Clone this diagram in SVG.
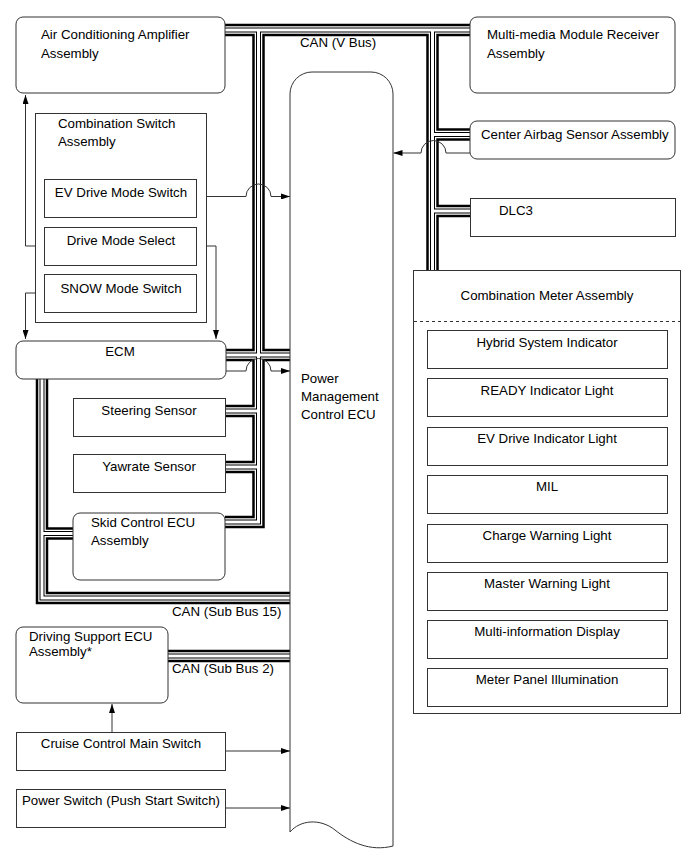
<svg xmlns="http://www.w3.org/2000/svg" xmlns:xlink="http://www.w3.org/1999/xlink" width="690" height="854" viewBox="0 0 690 854">
<style>
.box{fill:#fff;stroke:#333;stroke-width:1}
.t{font-family:"Liberation Sans",Arial,sans-serif;font-size:13.3px;fill:#000}
.c{text-anchor:middle}
.sig{fill:none;stroke:#333;stroke-width:1}
.b1{fill:none;stroke:#000;stroke-width:12.5}
.b2{fill:none;stroke:#fff;stroke-width:7.5}
.b3{fill:none;stroke:#000;stroke-width:5}
.b4{fill:none;stroke:#fff;stroke-width:3}
</style>
<defs>
<marker id="ah" markerWidth="9" markerHeight="6" refX="9" refY="3" orient="auto" markerUnits="userSpaceOnUse"><path d="M0,0 L9,3 L0,6 z" fill="#000"/></marker>
<g id="busgeom">
<path d="M225,30 H470"/>
<path d="M258.5,30 V522 H225"/>
<path d="M225,411 H258.5"/>
<path d="M225,467 H258.5"/>
<path d="M226,355 H290"/>
<path d="M432.5,30 V270"/>
<path d="M432.5,134.5 H470"/>
<path d="M432.5,211 H470"/>
<path d="M42,379 V598 H290"/>
<path d="M42,533.5 H73"/>
<path d="M168,656 H290"/>
</g>
</defs>
<rect width="690" height="854" fill="#fff"/>
<g id="connectors">
<use xlink:href="#busgeom" class="b1" stroke-linejoin="miter"/>
<use xlink:href="#busgeom" class="b2"/>
<use xlink:href="#busgeom" class="b3"/>
<use xlink:href="#busgeom" class="b4"/>
<path class="sig" d="M44,246 H25.5 V95" marker-end="url(#ah)"/>
<path class="sig" d="M44,293 H25.5 V339" marker-end="url(#ah)"/>
<path class="sig" d="M197,246 H216 V339" marker-end="url(#ah)"/>
<path class="sig" d="M197,196.5 H246 A12.5,12.5 0 0 1 271,196.5 H290" marker-end="url(#ah)"/>
<path class="sig" d="M226,371 H246 A12.5,12.5 0 0 1 271,371 H290" marker-end="url(#ah)"/>
<path class="sig" d="M470,153 H446 A12.5,12.5 0 0 0 421,153 H393.5" marker-end="url(#ah)"/>
<path class="sig" d="M112,732 V704" marker-end="url(#ah)"/>
<path class="sig" d="M225,751 H290" marker-end="url(#ah)"/>
<path class="sig" d="M225,808 H290" marker-end="url(#ah)"/>
</g>
<g id="pm">
<path class="box" d="M290,832 V94 A22,22 0 0 1 312,72 H371 A22,22 0 0 1 393,94 V846 C370,852 350,842 335,830 C320,818 300,820 290,832 Z"/>
<text class="t" x="301" y="383">Power</text>
<text class="t" x="301" y="401">Management</text>
<text class="t" x="301" y="419">Control ECU</text>
</g>
<text class="t" x="300" y="47">CAN (V Bus)</text>
<text class="t" x="172" y="615.5">CAN (Sub Bus 15)</text>
<text class="t" x="172" y="672.5">CAN (Sub Bus 2)</text>
<g id="aircon">
<rect class="box" x="16" y="17" width="209" height="76" rx="7"/>
<text class="t" x="41" y="39">Air Conditioning Amplifier</text>
<text class="t" x="41" y="57.5">Assembly</text>
</g>
<g id="combswitch">
<rect class="box" x="35.5" y="113.5" width="171" height="209"/>
<text class="t" x="58" y="128">Combination Switch</text>
<text class="t" x="58" y="146">Assembly</text>
</g>
<g id="evswitch">
<rect class="box" x="44.5" y="179.5" width="152" height="38"/>
<text class="t c" x="121" y="196.5">EV Drive Mode Switch</text>
</g>
<g id="drivemode">
<rect class="box" x="44.5" y="227.5" width="152" height="38"/>
<text class="t c" x="121" y="245">Drive Mode Select</text>
</g>
<g id="snow">
<rect class="box" x="44.5" y="274.5" width="152" height="38"/>
<text class="t c" x="121" y="292.5">SNOW Mode Switch</text>
</g>
<g id="ecm">
<rect class="box" x="16" y="341" width="210" height="38" rx="7"/>
<text class="t c" x="120" y="355.5">ECM</text>
</g>
<g id="steering">
<rect class="box" x="73.5" y="398.5" width="152" height="38"/>
<text class="t c" x="149" y="415">Steering Sensor</text>
</g>
<g id="yawrate">
<rect class="box" x="73.5" y="454.5" width="152" height="38"/>
<text class="t c" x="149" y="471">Yawrate Sensor</text>
</g>
<g id="skid">
<rect class="box" x="73" y="513" width="152" height="67" rx="7"/>
<text class="t" x="91" y="527">Skid Control ECU</text>
<text class="t" x="91" y="545">Assembly</text>
</g>
<g id="drivingsupport">
<rect class="box" x="16" y="627" width="152" height="76" rx="7"/>
<text class="t" x="29" y="640.5">Driving Support ECU</text>
<text class="t" x="29" y="656">Assembly*</text>
</g>
<g id="cruise">
<rect class="box" x="16.5" y="732.5" width="209" height="38"/>
<text class="t c" x="121" y="748">Cruise Control Main Switch</text>
</g>
<g id="powerswitch">
<rect class="box" x="16.5" y="789.5" width="209" height="38"/>
<text class="t c" x="121" y="804.5">Power Switch (Push Start Switch)</text>
</g>
<g id="multimedia">
<rect class="box" x="470" y="17" width="205" height="76" rx="7"/>
<text class="t" x="487" y="39">Multi-media Module Receiver</text>
<text class="t" x="487" y="57.5">Assembly</text>
</g>
<g id="airbag">
<rect class="box" x="470" y="121" width="205" height="38" rx="7"/>
<text class="t" x="481" y="139">Center Airbag Sensor Assembly</text>
</g>
<g id="dlc3">
<rect class="box" x="470.5" y="198.5" width="205" height="38"/>
<text class="t" x="499" y="215">DLC3</text>
</g>
<g id="combmeter">
<rect class="box" x="413.5" y="270.5" width="267" height="443"/>
<text class="t c" x="547" y="300">Combination Meter Assembly</text>
<line x1="414" y1="321.5" x2="680" y2="321.5" stroke="#333" stroke-width="1" stroke-dasharray="3,3"/>
<g id="hybrid"><rect class="box" x="427.5" y="330.5" width="240" height="38"/><text class="t c" x="547" y="347">Hybrid System Indicator</text></g>
<g id="ready"><rect class="box" x="427.5" y="378.5" width="240" height="38"/><text class="t c" x="547" y="395">READY Indicator Light</text></g>
<g id="evind"><rect class="box" x="427.5" y="427.5" width="240" height="38"/><text class="t c" x="547" y="443">EV Drive Indicator Light</text></g>
<g id="mil"><rect class="box" x="427.5" y="475.5" width="240" height="38"/><text class="t c" x="547" y="491">MIL</text></g>
<g id="charge"><rect class="box" x="427.5" y="524.5" width="240" height="38"/><text class="t c" x="547" y="540">Charge Warning Light</text></g>
<g id="master"><rect class="box" x="427.5" y="572.5" width="240" height="38"/><text class="t c" x="547" y="588">Master Warning Light</text></g>
<g id="multiinfo"><rect class="box" x="427.5" y="620.5" width="240" height="38"/><text class="t c" x="547" y="636">Multi-information Display</text></g>
<g id="illum"><rect class="box" x="427.5" y="668.5" width="240" height="38"/><text class="t c" x="547" y="684">Meter Panel Illumination</text></g>
</g>
</svg>
